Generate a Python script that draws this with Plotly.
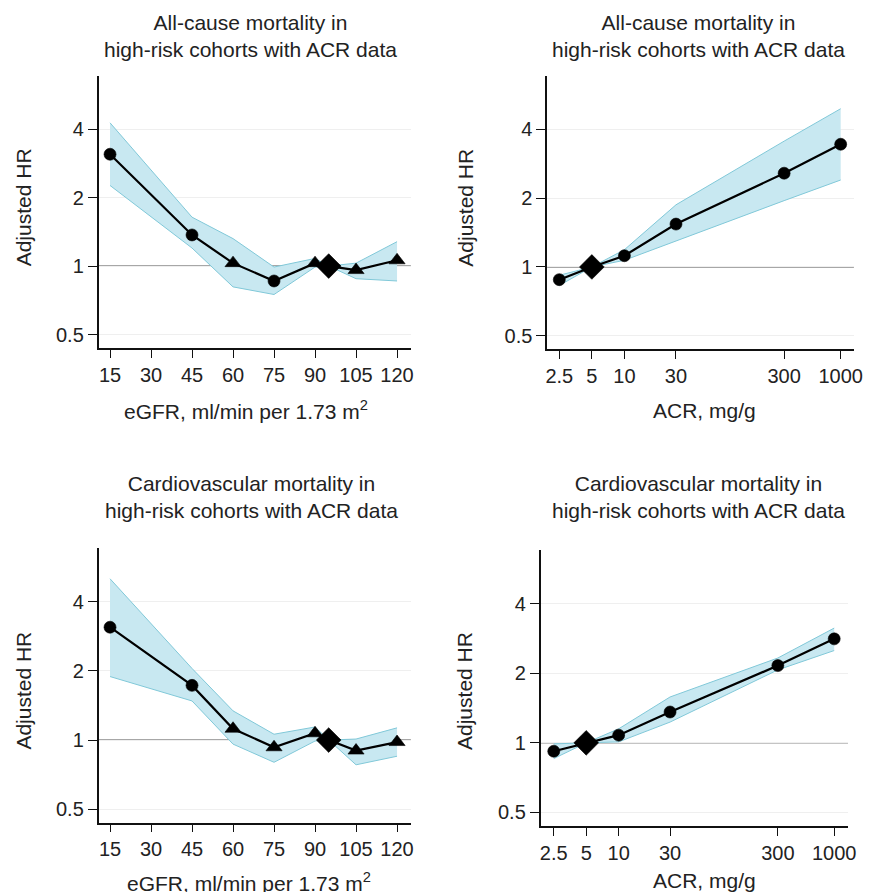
import plotly.graph_objects as go

# ---------------- data ----------------
egfr_x = [15, 45, 60, 75, 90, 95, 105, 120]
egfr_symbols = ["circle", "circle", "triangle-up", "circle", "triangle-up", "diamond", "triangle-up", "triangle-up"]
acm_egfr_hr = [3.10, 1.37, 1.03, 0.86, 1.03, 1.00, 0.96, 1.06]
acm_egfr_hi = [4.26, 1.64, 1.32, 0.99, 1.08, 1.00, 1.03, 1.28]
acm_egfr_lo = [2.26, 1.20, 0.81, 0.75, 0.99, 1.00, 0.88, 0.86]

cvm_egfr_symbols = ["circle", "circle", "triangle-up", "triangle-up", "triangle-up", "diamond", "triangle-up", "triangle-up"]
cvm_egfr_hr = [3.10, 1.73, 1.12, 0.93, 1.07, 1.00, 0.90, 0.98]
cvm_egfr_hi = [5.04, 2.05, 1.34, 1.06, 1.14, 1.00, 1.01, 1.13]
cvm_egfr_lo = [1.89, 1.48, 0.96, 0.80, 0.99, 1.00, 0.78, 0.85]

acr_x = [2.5, 5, 10, 30, 300, 1000]
acr_symbols = ["circle", "diamond", "circle", "circle", "circle", "circle"]
acm_acr_hr = [0.88, 1.00, 1.12, 1.54, 2.57, 3.44]
acm_acr_hi = [0.92, 1.00, 1.19, 1.87, 3.55, 4.92]
acm_acr_lo = [0.83, 1.00, 1.07, 1.30, 1.95, 2.40]

cvm_acr_hr = [0.92, 1.00, 1.08, 1.36, 2.16, 2.82]
cvm_acr_hi = [0.99, 1.00, 1.15, 1.58, 2.33, 3.14]
cvm_acr_lo = [0.855, 1.00, 1.01, 1.23, 2.07, 2.51]

egfr_ticks = [15, 30, 45, 60, 75, 90, 105, 120]
acr_ticks = [2.5, 5, 10, 30, 300, 1000]
acr_ticklabels = ["2.5", "5", "10", "30", "300", "1000"]
hr_ticks = [0.5, 1, 2, 4]
hr_ticklabels = ["0.5", "1", "2", "4"]

title_acm = "All-cause mortality in<br>high-risk cohorts with ACR data"
title_cvm = "Cardiovascular mortality in<br>high-risk cohorts with ACR data"
egfr_label = "eGFR, ml/min per 1.73 m<sup>2</sup>"
acr_label = "ACR, mg/g"
y_label = "Adjusted HR"

# ---------------- styling ----------------
W, H = 872, 892
OFF = 8  # page body margin offset
FONT = "Liberation Sans, Arial, Helvetica, sans-serif"
TXT = "#222222"
FILL = "rgba(200,232,241,1)"
EDGE = "rgb(128,200,216)"


def px_x(p):
    return (p - OFF) / W


def px_y(p):
    return 1 - (p - OFF) / H


panels = [
    dict(x=egfr_x, hr=acm_egfr_hr, hi=acm_egfr_hi, lo=acm_egfr_lo, sym=egfr_symbols,
         box=(97.7, 414, 76, 348), xr=[10.81, 125.06], xlog=False,
         title=title_acm, tpos=(251.5, 36.2), xlab=egfr_label, xlpos=(247, 410), ylpos=(22, 207.5)),
    dict(x=acr_x, hr=acm_acr_hr, hi=acm_acr_hi, lo=acm_acr_lo, sym=acr_symbols,
         box=(552, 862.7, 76, 349.3), xr=[0.2856, 3.1224], xlog=True,
         title=title_acm, tpos=(705, 36.2), xlab=acr_label, xlpos=(711, 410), ylpos=(469, 207.5)),
    dict(x=egfr_x, hr=cvm_egfr_hr, hi=cvm_egfr_hi, lo=cvm_egfr_lo, sym=cvm_egfr_symbols,
         box=(97.7, 414, 548.3, 822.7), xr=[10.81, 125.06], xlog=False,
         title=title_cvm, tpos=(252.5, 496.7), xlab=egfr_label, xlpos=(250, 882), ylpos=(22, 690.8)),
    dict(x=acr_x, hr=cvm_acr_hr, hi=cvm_acr_hi, lo=cvm_acr_lo, sym=acr_symbols,
         box=(545.3, 856.7, 550, 826), xr=[0.2751, 3.128], xlog=True,
         title=title_cvm, tpos=(705, 496.7), xlab=acr_label, xlpos=(711, 880), ylpos=(469, 690.8)),
]

fig = go.Figure()
layout = dict(
    width=W, height=H,
    margin=dict(l=0, r=0, t=0, b=0),
    paper_bgcolor="white", plot_bgcolor="white",
    showlegend=False,
    font=dict(family=FONT, size=20, color=TXT),
    annotations=[], shapes=[],
)

for i, p in enumerate(panels, start=1):
    sfx = "" if i == 1 else str(i)
    xa, ya = "x" + sfx, "y" + sfx
    # confidence band
    fig.add_trace(go.Scatter(x=p["x"], y=p["lo"], mode="lines",
                             line=dict(color=EDGE, width=1), xaxis=xa, yaxis=ya,
                             hoverinfo="skip"))
    fig.add_trace(go.Scatter(x=p["x"], y=p["hi"], mode="lines", fill="tonexty",
                             fillcolor=FILL, line=dict(color=EDGE, width=1),
                             xaxis=xa, yaxis=ya, hoverinfo="skip"))
    # estimate line + markers
    sizes = [19 if s == "diamond" else (14 if s.startswith("triangle") else 12) for s in p["sym"]]
    fig.add_trace(go.Scatter(x=p["x"], y=p["hr"], mode="lines+markers",
                             line=dict(color="black", width=2.2),
                             marker=dict(symbol=p["sym"], size=sizes, color="black",
                                         opacity=1, line=dict(width=0.6, color="black")),
                             xaxis=xa, yaxis=ya))
    x0, x1, y0, y1 = p["box"]
    xax = dict(
        domain=[px_x(x0), px_x(x1)],
        anchor=ya,
        range=p["xr"],
        type="log" if p["xlog"] else "linear",
        tickmode="array",
        tickvals=acr_ticks if p["xlog"] else egfr_ticks,
        ticktext=acr_ticklabels if p["xlog"] else [str(t) for t in egfr_ticks],
        showline=True, linecolor="#111111", linewidth=1.5,
        ticks="outside", ticklen=8, tickwidth=1.3, tickcolor="#111111",
        showgrid=False, zeroline=False,
        tickfont=dict(size=20, color=TXT, family=FONT),
        fixedrange=True,
    )
    yax = dict(
        domain=[px_y(y1), px_y(y0)],
        anchor=xa,
        type="log",
        range=[-0.36, 0.835],
        tickmode="array",
        tickvals=hr_ticks, ticktext=hr_ticklabels,
        showline=True, linecolor="#111111", linewidth=1.5,
        ticks="outside", ticklen=9, tickwidth=1.3, tickcolor="#111111",
        showgrid=True, gridcolor="#efefef", gridwidth=1,
        zeroline=False,
        tickfont=dict(size=20, color=TXT, family=FONT),
        fixedrange=True,
    )
    layout["xaxis" + sfx] = xax
    layout["yaxis" + sfx] = yax
    # reference line at HR = 1
    layout["shapes"].append(dict(type="line", xref=xa + " domain", yref=ya,
                                 x0=0, x1=1, y0=1, y1=1, layer="below",
                                 line=dict(color="#8a8a8a", width=1.4)))
    # titles & axis labels
    tx, ty = p["tpos"]
    layout["annotations"].append(dict(text=p["title"], x=px_x(tx), y=px_y(ty),
                                      xref="paper", yref="paper", showarrow=False,
                                      xanchor="center", yanchor="middle",
                                      font=dict(size=21, color=TXT, family=FONT)))
    lx, ly = p["xlpos"]
    layout["annotations"].append(dict(text=p["xlab"], x=px_x(lx), y=px_y(ly),
                                      xref="paper", yref="paper", showarrow=False,
                                      xanchor="center", yanchor="middle",
                                      font=dict(size=21, color=TXT, family=FONT)))
    yx, yy = p["ylpos"]
    layout["annotations"].append(dict(text=y_label, x=px_x(yx), y=px_y(yy),
                                      xref="paper", yref="paper", showarrow=False,
                                      xanchor="center", yanchor="middle", textangle=-90,
                                      font=dict(size=21, color=TXT, family=FONT)))

fig.update_layout(**layout)
fig.write_html("out.html")
